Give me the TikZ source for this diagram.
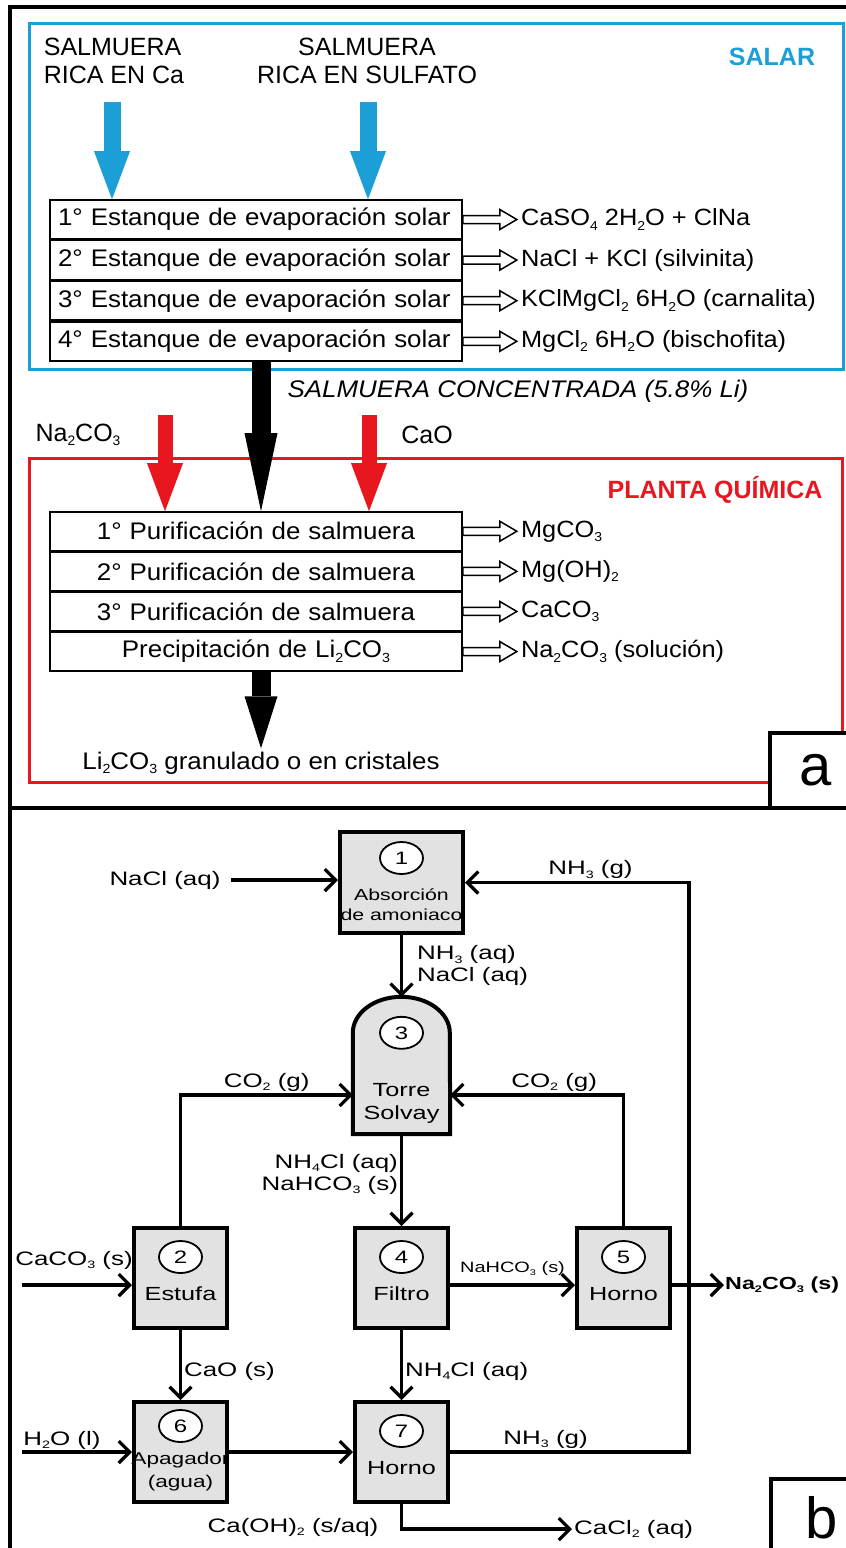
\documentclass[tikz,border=0pt]{standalone}
\usepackage{fontspec}
\usepackage{graphicx}
\setmainfont{Liberation Sans}
\newfontfamily\fnarrow[FakeStretch=1.08]{Liberation Sans}
\newfontfamily\fwide[FakeStretch=1.33]{Liberation Sans}
\usetikzlibrary{positioning, shapes.geometric, arrows.meta, calc}

\definecolor{salarblue}{RGB}{28,158,214}
\definecolor{plantred}{RGB}{232,22,30}
\definecolor{boxgray}{RGB}{226,226,226}

\newcommand{\chsub}[1]{\raisebox{-0.35ex}{\scalebox{0.55}{#1}}}
\newcommand{\hollowfrom}[1]{\draw[hollow] ([yshift=4pt]#1) -- ++(37pt,0pt) -- ++(0pt,6pt) -- ++(17pt,-10pt) -- ++(-17pt,-10pt) -- ++(0pt,6pt) -- ++(-37pt,0pt) -- cycle;}

\begin{document}
\begin{tikzpicture}[x=1pt, y=-1pt,
  frame/.style={line width=4pt},
  zone/.style={line width=3pt},
  row/.style={draw, line width=1.6pt, fill=white, minimum width=412pt, inner xsep=8pt, text width=396pt, font=\fnarrow\fontsize{24}{28}\selectfont},
  evap/.style={row, minimum height=39pt, align=left},
  purif/.style={row, minimum height=38.5pt, align=center},
  prod/.style={inner sep=0pt, font=\fnarrow\fontsize{23.5}{27}\selectfont},
  toplab/.style={align=center, font=\fontsize{25}{28}\selectfont},
  zonelab/.style={font=\bfseries\fontsize{25}{28}\selectfont},
  hollow/.style={draw, line width=1.5pt, fill=white, line join=miter},
  feed/.style={line width=17pt, -{Triangle[length=48pt, width=36pt, line width=0pt]}},
  conc/.style={line width=19pt, -{Triangle[length=#1, width=33pt, line width=0pt]}},
  tagfont/.style={inner sep=0pt, font=\fontsize{58}{60}\selectfont},
  unit/.style={draw, line width=4pt, fill=boxgray, minimum width=93pt, minimum height=100pt},
  num/.style={ellipse, draw, line width=1.8pt, fill=white, minimum width=43pt, minimum height=32pt, inner sep=0pt, font=\fwide\fontsize{18}{20}\selectfont},
  utxt/.style={align=center, inner sep=0pt, font=\fwide\fontsize{19}{23}\selectfont},
  lab/.style={inner sep=2pt, font=\fwide\fontsize{19.5}{22}\selectfont},
  flow/.style={line width=3.2pt, -{Straight Barb[length=11pt, width=22pt]}}
]
\useasboundingbox (0,0) rectangle (846,1548);
\fill[white] (0,0) rectangle (846,1548);
\clip (0,0) rectangle (846,1548);

% frames
\draw[frame] (10,7) rectangle (870,1570);
\draw[frame] (10,808) -- (870,808);
\draw[zone, salarblue] (29,23) rectangle (843,369);
\draw[zone, plantred] (29,458) rectangle (842,782);
\draw[frame, fill=white] (770,733) rectangle (870,808);
\draw[frame, fill=white] (771,1479) rectangle (870,1570);
\node[tagfont] (ta) at (816,770) {a};
\node[tagfont] (tb) at (822,1518) {b};

% salar
\node[toplab, align=left] (ca) at (114,61) {SALMUERA\\RICA EN Ca};
\node[toplab] (su) at (367,61) {SALMUERA\\RICA EN SULFATO};
\node[zonelab, text=salarblue] (salar) at (772,57) {SALAR};

\node[evap] (e1) at (256,219.5) {1° Estanque de evaporación solar};
\node[evap, below=0pt of e1] (e2) {2° Estanque de evaporación solar};
\node[evap, below=0pt of e2] (e3) {3° Estanque de evaporación solar};
\node[evap, below=0pt of e3] (e4) {4° Estanque de evaporación solar};

\hollowfrom{e1.east}
\hollowfrom{e2.east}
\hollowfrom{e3.east}
\hollowfrom{e4.east}
\node[prod, right=58pt of e1] (s1) {CaSO\chsub{4} 2H\chsub{2}O + ClNa};
\node[prod, right=58pt of e2] (s2) {NaCl + KCl (silvinita)};
\node[prod, right=58pt of e3] (s3) {KClMgCl\chsub{2} 6H\chsub{2}O (carnalita)};
\node[prod, right=58pt of e4] (s4) {MgCl\chsub{2} 6H\chsub{2}O (bischofita)};

\coordinate (f1) at (112,102);
\coordinate (f2) at (368,102);
\draw[feed, salarblue] (f1) -- (f1 |- e1.north);
\draw[feed, salarblue] (f2) -- (f2 |- e1.north);

% planta quimica
\node[anchor=west, font=\fnarrow\itshape\fontsize{24}{28}\selectfont] (sc) at (284,391) {SALMUERA CONCENTRADA (5.8\% Li)};
\node[toplab] (na) at (78,435) {Na\chsub{2}CO\chsub{3}};
\node[toplab] (cao) at (427,435) {CaO};
\node[zonelab, text=plantred] (planta) at (715,490) {PLANTA QUÍMICA};

\node[purif] (p1) at (256,531.25) {1° Purificación de salmuera};
\node[purif, below=0pt of p1] (p2) {2° Purificación de salmuera};
\node[purif, below=0pt of p2] (p3) {3° Purificación de salmuera};
\node[purif, below=0pt of p3] (p4) {Precipitación de Li\chsub{2}CO\chsub{3}};

\hollowfrom{p1.east}
\hollowfrom{p2.east}
\hollowfrom{p3.east}
\hollowfrom{p4.east}
\node[prod, right=58pt of p1] (m1) {MgCO\chsub{3}};
\node[prod, right=58pt of p2] (m2) {Mg(OH)\chsub{2}};
\node[prod, right=58pt of p3] (m3) {CaCO\chsub{3}};
\node[prod, right=58pt of p4] (m4) {Na\chsub{2}CO\chsub{3} (solución)};

\node[font=\fnarrow\fontsize{24}{28}\selectfont] (li) at (261,763) {Li\chsub{2}CO\chsub{3} granulado o en cristales};

\coordinate (f3) at (165,415);
\coordinate (f4) at (369,415);
\draw[feed, plantred, line width=15pt] (f3) -- (f3 |- p1.north);
\draw[feed, plantred, line width=15pt] (f4) -- (f4 |- p1.north);
\draw[conc=78pt] ([xshift=5pt]e4.south) -- ([xshift=5pt]p1.north);
\draw[conc=52pt] ([xshift=5pt]p4.south) -- (li);

% solvay
\node[unit, minimum width=123pt, minimum height=101pt] (1) at (401.5,882.5) {};
\node[num] (c1) at ([yshift=-28pt]1.north) {1};
\node[utxt, font=\fwide\fontsize{16}{20}\selectfont] (t1) at ([yshift=-75pt]1.north) {Absorción\\de amoniaco};

\node[minimum width=97pt, minimum height=137pt, inner sep=0pt] (3) at (401.5,1065.5) {};
\draw[line width=4pt, fill=boxgray] (3.south west) -- ([yshift=-36pt]3.north west) arc[start angle=180, end angle=0, x radius=48.5pt, y radius=36pt] -- (3.south east) -- cycle;
\node[num] (c3) at ([yshift=-36pt]3.north) {3};
\node[utxt] (t3) at ([yshift=-107pt]3.north) {Torre\\Solvay};

\node[unit] (2) at (180.5,1278) {};
\node[num] (c2) at ([yshift=-31pt]2.north) {2};
\node[utxt] (t2) at ([yshift=-68pt]2.north) {Estufa};

\node[unit] (4) at (401.5,1278) {};
\node[num] (c4) at ([yshift=-31pt]4.north) {4};
\node[utxt] (t4) at ([yshift=-68pt]4.north) {Filtro};

\node[unit] (5) at (623.5,1278) {};
\node[num] (c5) at ([yshift=-31pt]5.north) {5};
\node[utxt] (t5) at ([yshift=-68pt]5.north) {Horno};

\node[unit] (6) at (180.5,1452) {};
\node[num] (c6) at ([yshift=-26pt]6.north) {6};
\node[utxt, font=\fwide\fontsize{17}{23}\selectfont] (t6) at ([yshift=-72pt]6.north) {Apagador\\(agua)};

\node[unit] (7) at (401.5,1452) {};
\node[num] (c7) at ([yshift=-31pt]7.north) {7};
\node[utxt] (t7) at ([yshift=-68pt]7.north) {Horno};

\node[lab] (nacl) at (165,880) {NaCl (aq)};
\node[lab] (caco3) at (74,1260) {CaCO\chsub{3} (s)};
\node[lab] (h2o) at (62,1440) {H\chsub{2}O (l)};
\node[lab] (caoh) at (293,1527) {Ca(OH)\chsub{2} (s/aq)};
\node[lab, anchor=west] (cacl) at (572,1529) {CaCl\chsub{2} (aq)};
\node[lab, anchor=west, inner sep=1pt, font=\fwide\bfseries\fontsize{17.5}{20}\selectfont] (out) at (724,1285) {Na\chsub{2}CO\chsub{3} (s)};
\coordinate (inA) at (22,1285);
\coordinate (inB) at (22,1452);
\coordinate (nh) at (689,0);

\draw[flow, shorten <=8pt] (nacl) -- (nacl -| 1.west);
\draw[flow] (1) -- (3) node[lab, right, midway, align=left, xshift=12pt] (l13) {NH\chsub{3} (aq)\\NaCl (aq)};
\draw[flow] (2) |- ([yshift=-29.5pt]3.west) node[lab, above, pos=0.75] (l23) {CO\chsub{2} (g)};
\draw[flow] (5) |- ([yshift=-29.5pt]3.east) node[lab, above, pos=0.7] (l53) {CO\chsub{2} (g)};
\draw[flow] (3) -- (4) node[lab, left, midway, align=right, yshift=6pt] (l34) {NH\chsub{4}Cl (aq)\\NaHCO\chsub{3} (s)};
\draw[flow] (inA) -- (inA -| 2.west);
\draw[flow] ([yshift=-7pt]4.east) -- ([yshift=-7pt]4.east -| 5.west) node[lab, above=6pt, midway, font=\fwide\fontsize{15}{17}\selectfont] (l45) {NaHCO\chsub{3} (s)};
\draw[flow] ([yshift=-7pt]5.east) -- (out.west);
\draw[flow] (2) -- (6) node[lab, right, midway, yshift=-6pt] (l26) {CaO (s)};
\draw[flow] (4) -- (7) node[lab, right, midway, yshift=-6pt] (l47) {NH\chsub{4}Cl (aq)};
\draw[flow] (inB) -- (inB -| 6.west);
\draw[flow] (6) -- (7);
\draw[flow] (7) -- (7 -| nh) node[lab, above, pos=0.4] (l71b) {NH\chsub{3} (g)} |- (1) node[lab, above, pos=0.72] (l71a) {NH\chsub{3} (g)};
\draw[flow] (7) |- (cacl);
\end{tikzpicture}
\end{document}
